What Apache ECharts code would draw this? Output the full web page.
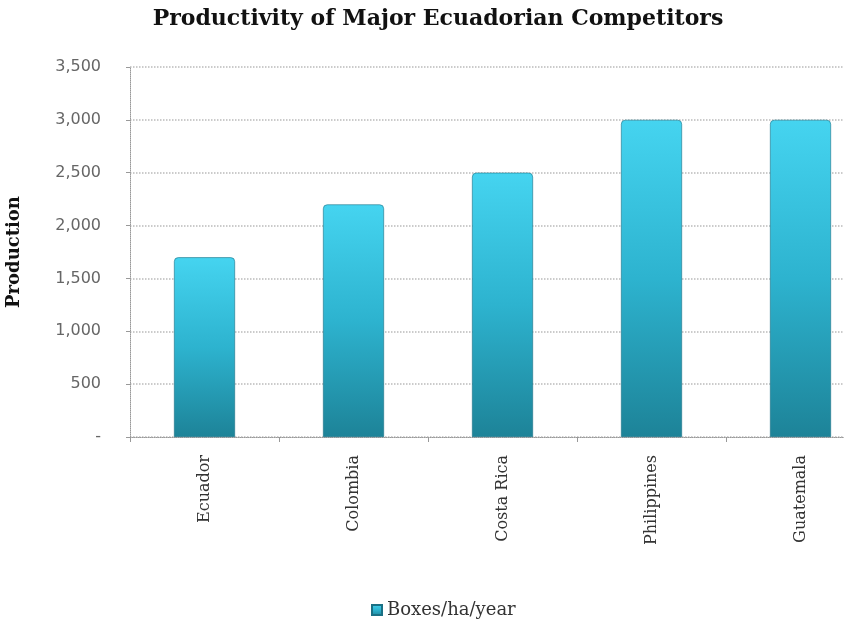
<!DOCTYPE html>
<html><head><meta charset="utf-8">
<script src="https://cdn.jsdelivr.net/npm/echarts@6/dist/echarts.min.js"></script>
<style>html,body{margin:0;padding:0;background:#fff}#c{width:844px;height:629px}</style>
</head><body><div id="c"></div>
<script>
const categories = ['Ecuador', 'Colombia', 'Costa Rica', 'Philippines', 'Guatemala'];
const boxesPerHaYear = [1700, 2200, 2500, 3000, 3000];
const seriesName = 'Boxes/ha/year';
const yTicks = [0, 500, 1000, 1500, 2000, 2500, 3000, 3500];

const chart = echarts.init(document.getElementById('c'));
const barColor = {
  type: 'linear', x: 0, y: 0, x2: 0, y2: 1,
  colorStops: [
    {offset: 0, color: '#45d4f0'},
    {offset: 0.5, color: '#2db3cf'},
    {offset: 1, color: '#1d8398'}
  ]
};
chart.setOption({
  animation: false,
  title: {
    text: 'Productivity of Major Ecuadorian Competitors',
    left: 433, top: 3, textAlign: 'center',
    textStyle: {fontFamily: 'DejaVu Serif', fontWeight: 'bold', fontSize: 22, color: '#111'}
  },
  grid: {left: 130, top: 67, width: 745, height: 370, outerBoundsMode: 'none', containLabel: false},
  legend: {
    top: 596, left: 366,
    itemWidth: 10, itemHeight: 10, icon: 'rect', itemGap: 6,
    textStyle: {fontFamily: 'DejaVu Serif', fontSize: 18, color: '#333'},
    data: [seriesName]
  },
  xAxis: {
    type: 'category', data: categories,
    axisLine: {lineStyle: {color: '#999', type: 'dotted'}},
    axisTick: {show: true, lineStyle: {color: '#999'}},
    axisLabel: {rotate: 90, margin: 18, fontFamily: 'DejaVu Serif', fontSize: 16, color: '#333'}
  },
  yAxis: {
    type: 'value', min: 0, max: 3500, interval: 500,
    name: 'Production', nameLocation: 'middle', nameGap: 107, nameRotate: 90,
    nameTextStyle: {fontFamily: 'DejaVu Serif', fontWeight: 'bold', fontSize: 18, color: '#111'},
    axisLine: {show: true, lineStyle: {color: '#999', type: 'dotted'}},
    axisTick: {show: true, length: 4, lineStyle: {color: '#999'}},
    splitLine: {lineStyle: {color: '#bbb', type: 'dotted', width: 1.5}},
    axisLabel: {
      margin: 29, fontFamily: 'DejaVu Sans', fontSize: 16, color: '#666',
      formatter: v => yTicks.includes(v) ? (v === 0 ? '-' : v.toLocaleString('en-US')) : ''
    }
  },
  series: [{
    name: seriesName, type: 'bar', data: boxesPerHaYear, barWidth: 61,
    itemStyle: {color: barColor, borderColor: '#1a7084', borderWidth: 0.6, borderRadius: [4, 4, 0, 0]}
  }]
});
</script></body></html>
